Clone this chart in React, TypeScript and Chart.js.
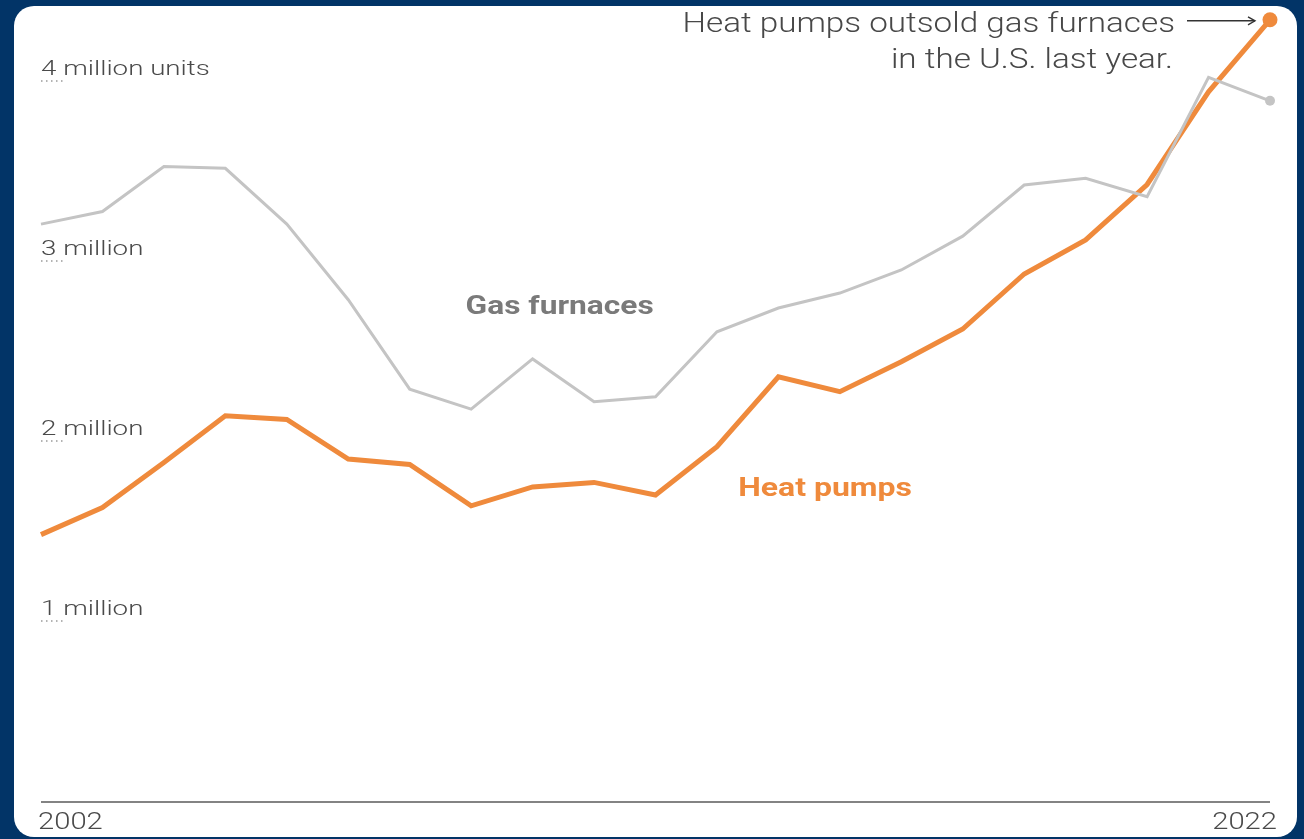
import React, { useEffect, useRef } from "react";
import { Chart, registerables } from "chart.js";

Chart.register(...registerables);

const years = [
  "2002", "2003", "2004", "2005", "2006", "2007", "2008", "2009", "2010", "2011",
  "2012", "2013", "2014", "2015", "2016", "2017", "2018", "2019", "2020", "2021", "2022",
];
const heatPumps = [
  1.48, 1.63, 1.88, 2.14, 2.12, 1.9, 1.87, 1.64, 1.745, 1.77,
  1.7, 1.968, 2.357, 2.274, 2.44, 2.622, 2.928, 3.117, 3.425, 3.94, 4.34,
];
const gasFurnaces = [
  3.205, 3.275, 3.525, 3.515, 3.205, 2.785, 2.288, 2.177, 2.456, 2.218,
  2.246, 2.607, 2.739, 2.822, 2.95, 3.138, 3.422, 3.46, 3.357, 4.02, 3.89,
];
const yTickValues = [4, 3, 2, 1];
const yTickLabels = ["4 million units", "3 million", "2 million", "1 million"];
const xTickLabels = ["2002", "2022"];
const seriesNames = ["Heat pumps", "Gas furnaces"];
const noteLines = ["Heat pumps outsold gas furnaces", "in the U.S. last year."];

const ORANGE = "#ef8a3c";
const GRAY = "#c4c4c4";
const TEXT = "#4a4a4a";
const FONT = "Roboto, 'Liberation Sans', sans-serif";
const SX = 1.25;

function drawText(
  ctx: CanvasRenderingContext2D,
  text: string,
  x: number,
  y: number,
  align: CanvasTextAlign,
  sx: number = SX
) {
  ctx.save();
  ctx.translate(x, y);
  ctx.scale(sx, 1);
  ctx.textAlign = align;
  ctx.fillText(text, 0, 0);
  ctx.restore();
}

const overlay = {
  id: "overlay",
  afterDatasetsDraw(chart: any) {
    const ctx = chart.ctx as CanvasRenderingContext2D;
    const x = chart.scales.x;
    const y = chart.scales.y;
    const left = x.getPixelForValue(0);
    const right = x.getPixelForValue(years.length - 1);
    ctx.save();

    // baseline
    const y0 = y.getPixelForValue(0);
    ctx.strokeStyle = "#5a5a5a";
    ctx.lineWidth = 1.6;
    ctx.beginPath();
    ctx.moveTo(left, y0 + 1);
    ctx.lineTo(right, y0 + 1);
    ctx.stroke();

    // y tick labels with dotted underline
    ctx.font = `300 21px ${FONT}`;
    ctx.fillStyle = TEXT;
    ctx.textBaseline = "alphabetic";
    yTickValues.forEach((v, i) => {
      const py = y.getPixelForValue(v);
      drawText(ctx, yTickLabels[i], left, py - 6, "left", 1.32);
      ctx.strokeStyle = "#9a9a9a";
      ctx.lineWidth = 1.5;
      ctx.setLineDash([1.5, 3.5]);
      ctx.beginPath();
      ctx.moveTo(left, py);
      ctx.lineTo(left + 24, py);
      ctx.stroke();
      ctx.setLineDash([]);
    });

    // x tick labels
    ctx.font = `300 23px ${FONT}`;
    ctx.fillStyle = TEXT;
    ctx.textBaseline = "middle";
    drawText(ctx, xTickLabels[0], left - 3, y0 + 22, "left", 1.27);
    drawText(ctx, xTickLabels[1], right + 7, y0 + 22, "right", 1.27);

    // series labels
    ctx.font = `700 26px ${FONT}`;
    ctx.fillStyle = "#7a7a7a";
    drawText(ctx, seriesNames[1], x.getPixelForValue(8.44), y.getPixelForValue(2.74), "center", 1.22);
    ctx.fillStyle = ORANGE;
    drawText(ctx, seriesNames[0], x.getPixelForValue(12.76), y.getPixelForValue(1.73), "center", 1.23);

    // annotation
    const last = years.length - 1;
    const ey = y.getPixelForValue(heatPumps[last]);
    ctx.font = `300 27px ${FONT}`;
    ctx.fillStyle = "#484848";
    drawText(ctx, noteLines[0], right - 95, ey + 5, "right", 1.23);
    drawText(ctx, noteLines[1], right - 97, ey + 41, "right", 1.23);

    // arrow
    ctx.strokeStyle = "#333";
    ctx.lineWidth = 1.4;
    ctx.beginPath();
    ctx.moveTo(right - 83, ey + 1);
    ctx.lineTo(right - 15, ey + 1);
    ctx.stroke();
    ctx.beginPath();
    ctx.moveTo(right - 22, ey - 3);
    ctx.lineTo(right - 15, ey + 1);
    ctx.lineTo(right - 22, ey + 5);
    ctx.stroke();

    ctx.restore();
  },
};

export default function App() {
  const ref = useRef<HTMLCanvasElement>(null);
  useEffect(() => {
    if (!ref.current) return;
    const lastIdx = years.length - 1;
    const chart = new Chart(ref.current, {
      type: "line",
      data: {
        labels: years,
        datasets: [
          {
            label: seriesNames[1],
            data: gasFurnaces,
            borderColor: GRAY,
            backgroundColor: GRAY,
            borderWidth: 3,
            pointRadius: (c: any) => (c.dataIndex === lastIdx ? 5 : 0),
            pointBorderWidth: 0,
            tension: 0,
            clip: false as any,
          },
          {
            label: seriesNames[0],
            data: heatPumps,
            borderColor: ORANGE,
            backgroundColor: ORANGE,
            borderWidth: 5,
            pointRadius: (c: any) => (c.dataIndex === lastIdx ? 7.5 : 0),
            pointBorderWidth: 0,
            tension: 0,
            clip: false as any,
          },
        ],
      },
      options: {
        responsive: false,
        animation: false,
        devicePixelRatio: 1,
        layout: { padding: { left: 41, right: 34, top: 9, bottom: 38 } },
        plugins: { legend: { display: false }, tooltip: { enabled: false } },
        scales: {
          x: { type: "category", display: false, offset: false },
          y: { display: false, min: 0, max: 4.4 },
        },
      },
      plugins: [overlay],
    });
    return () => chart.destroy();
  }, []);

  return (
    <div style={{ position: "fixed", inset: 0, background: "#023467", overflow: "hidden" }}>
      <div
        style={{
          position: "absolute",
          left: 14,
          top: 6,
          width: 1283,
          height: 831,
          background: "#ffffff",
          borderRadius: 20,
        }}
      />
      <canvas
        ref={ref}
        width={1304}
        height={839}
        style={{ position: "absolute", left: 0, top: 0, width: 1304, height: 839 }}
      />
    </div>
  );
}
